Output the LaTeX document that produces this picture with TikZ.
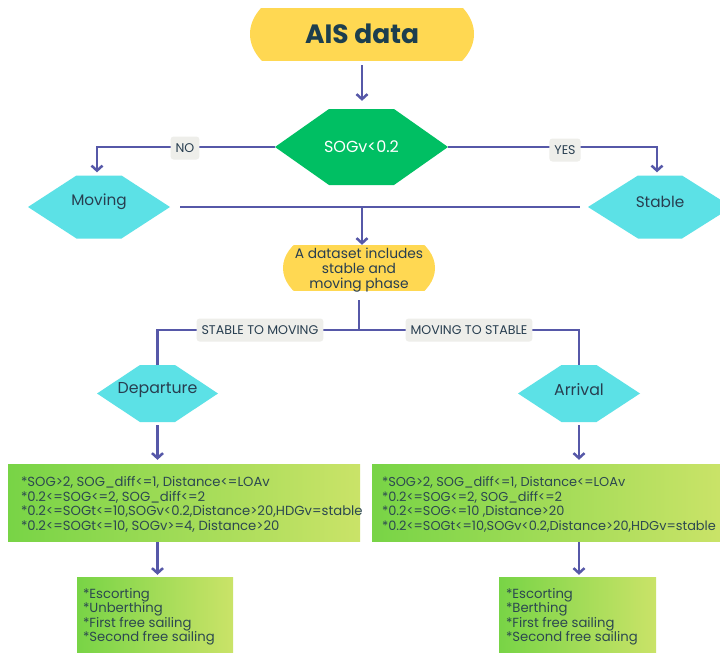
\documentclass[tikz,border=0pt]{standalone}
\usepackage{fontspec}
\setmainfont{Poppins}
\usetikzlibrary{arrows.meta,calc}
\definecolor{arr}{RGB}{86,88,168}
\definecolor{ylw}{RGB}{255,216,82}
\definecolor{grn}{RGB}{0,191,99}
\definecolor{cyn}{RGB}{92,225,230}
\definecolor{lblbg}{RGB}{238,238,234}
\definecolor{txt}{RGB}{40,62,80}
\definecolor{aistxt}{RGB}{28,62,78}
\definecolor{boxtxt}{RGB}{44,72,80}
\definecolor{gl}{RGB}{120,212,70}
\definecolor{gr}{RGB}{202,227,104}
% name, x, y, width, height, top width, colour, text, text raise
\newcommand\hexshape[9]{%
  \fill[#7] ({#2-#4/2},#3) -- ({#2-#6/2},{#3-#5/2}) -- ({#2+#6/2},{#3-#5/2})
    -- ({#2+#4/2},#3) -- ({#2+#6/2},{#3+#5/2}) -- ({#2-#6/2},{#3+#5/2}) -- cycle;
  \node[minimum width=#4, minimum height=#5, inner sep=0pt] (#1) at (#2,#3) {};
  \node[inner sep=0pt] (#1-t) at (#2,{#3-#9}) {#8};
}
\tikzset{
  conn/.style={draw=arr, line width=2.5pt},
  arw/.style={conn, -{Straight Barb[length=5pt,width=11pt]}},
  lbl/.style={fill=lblbg, rounded corners=3pt, text=txt, inner xsep=5pt,
    minimum height=23pt, font=\fontsize{12.6}{15}\selectfont},
  gbox/.style={left color=gl, right color=gr, inner sep=0pt},
  gtext/.style={text=boxtxt, align=left, inner sep=0pt, anchor=west,
    font=\fontsize{13.2}{14.5}\selectfont},
}
\begin{document}
\begin{tikzpicture}[x=1pt, y=-1pt]
\useasboundingbox (0,0) rectangle (720,653);
\fill[white] (0,0) rectangle (720,653);
\clip (0,0) rectangle (720,653);

% AIS data
\begin{scope}
  \clip (230,8) rectangle (500,60);
  \fill[ylw] (362,34) ellipse [x radius=112, y radius=60];
\end{scope}
\node[minimum width=224, minimum height=52, inner sep=0pt, text=aistxt,
  font=\fontsize{26.5}{30}\selectfont\bfseries] (ais) at (362,34) {AIS data};

% decision
\hexshape{sog}{361.5}{147}{173}{76}{65}{grn}{\textcolor{white}{\fontsize{16}{19}\selectfont SOGv<0.2}}{0}

% Moving / Stable
\hexshape{moving}{99}{207}{142}{63}{45}{cyn}{\textcolor{txt}{\fontsize{15.3}{18}\selectfont Moving}}{5.5}
\hexshape{stable}{660}{207}{144}{63}{44}{cyn}{\textcolor{txt}{\fontsize{15.3}{18}\selectfont Stable}}{5.5}

% dataset
\begin{scope}
  \clip (270,245) rectangle (450,290);
  \fill[ylw] (359,268) ellipse [x radius=76, y radius=45];
\end{scope}
\node[minimum width=152, minimum height=45, inner sep=0pt] (data) at (359,267.5) {};
\node[inner sep=0pt, text=txt, align=center, font=\fontsize{13.8}{15}\selectfont]
  (data-t) at (359,270.5) {A dataset includes\\stable and\\moving phase};

% Departure / Arrival
\hexshape{dep}{157.5}{393.5}{121}{57}{35}{cyn}{\textcolor{txt}{\fontsize{15.8}{18}\selectfont Departure}}{3.5}
\hexshape{arr}{579}{393.5}{122}{57}{35}{cyn}{\textcolor{txt}{\fontsize{15.8}{18}\selectfont Arrival}}{3.5}

% condition boxes
\node[gbox, minimum width=352, minimum height=77] (box1) at (184,502.5) {};
\node[gtext] (box1-t) at ([xshift=13pt, yshift=-2pt]box1.west)
  {*SOG>2, SOG\_diff<=1, Distance<=LOAv\\{}%
   *0.2<=SOG<=2, SOG\_diff<=2\\{}%
   *0.2<=SOGt<=10,SOGv<0.2,Distance>20,HDGv=stable\\{}%
   *0.2<=SOGt<=10, SOGv>=4, Distance>20};
\node[gbox, minimum width=350, minimum height=77] (box2) at (547,502.5) {};
\node[gtext, font=\fontsize{12.9}{14.5}\selectfont] (box2-t) at ([xshift=10pt, yshift=-2pt]box2.west)
  {*SOG>2, SOG\_diff<=1, Distance<=LOAv\\{}%
   *0.2<=SOG<=2, SOG\_diff<=2\\{}%
   *0.2<=SOG<=10 ,Distance>20\\{}%
   *0.2<=SOGt<=10,SOGv<0.2,Distance>20,HDGv=stable};

% phase boxes
\node[gbox, minimum width=156, minimum height=78] (bot1) at (155,616) {};
\node[gtext] (bot1-t) at ([xshift=6pt, yshift=-1pt]bot1.west)
  {*Escorting\\{}*Unberthing\\{}*First free sailing\\{}*Second free sailing};
\node[gbox, minimum width=157, minimum height=78] (bot2) at (577.5,616) {};
\node[gtext] (bot2-t) at ([xshift=7pt, yshift=-1pt]bot2.west)
  {*Escorting\\{}*Berthing\\{}*First free sailing\\{}*Second free sailing};

% connectors
\coordinate (j1) at (362,207);
\coordinate (j2) at (359,330);
\draw[arw, shorten <=5pt, shorten >=8pt] (ais.south) -- (ais.south |- sog.north);
\draw[arw, shorten >=3pt] (sog.west) -| ([xshift=-2pt]moving.north);
\draw[arw, shorten >=3pt] (sog.east) -| ([xshift=-3pt]stable.north);
\draw[conn, shorten <=10pt, shorten >=8pt] (moving.east) -- (stable.west);
\draw[arw] (j1) -- (j1 |- data.north);
\draw[conn, shorten <=10pt] (data.south) -- (j2);
\draw[conn] (dep.north) |- (j2) -| (arr.north);
\draw[arw, shorten <=3pt, shorten >=4pt] (dep.south) -- (dep.south |- box1.north);
\draw[arw, shorten <=3pt, shorten >=4pt] (arr.south) -- (arr.south |- box2.north);
\draw[arw, shorten <=1pt, shorten >=2pt] (dep.south |- box1.south) -- (dep.south |- bot1.north);
\draw[arw, shorten <=1pt, shorten >=2pt] (arr.south |- box2.south) -- (arr.south |- bot2.north);

% labels
\node[lbl] (no) at (185,148) {NO};
\node[lbl] (yes) at (565,150) {YES};
\node[lbl] (s2m) at (260,330) {STABLE TO MOVING};
\node[lbl] (m2s) at (469,330) {MOVING TO STABLE};
\end{tikzpicture}
\end{document}
